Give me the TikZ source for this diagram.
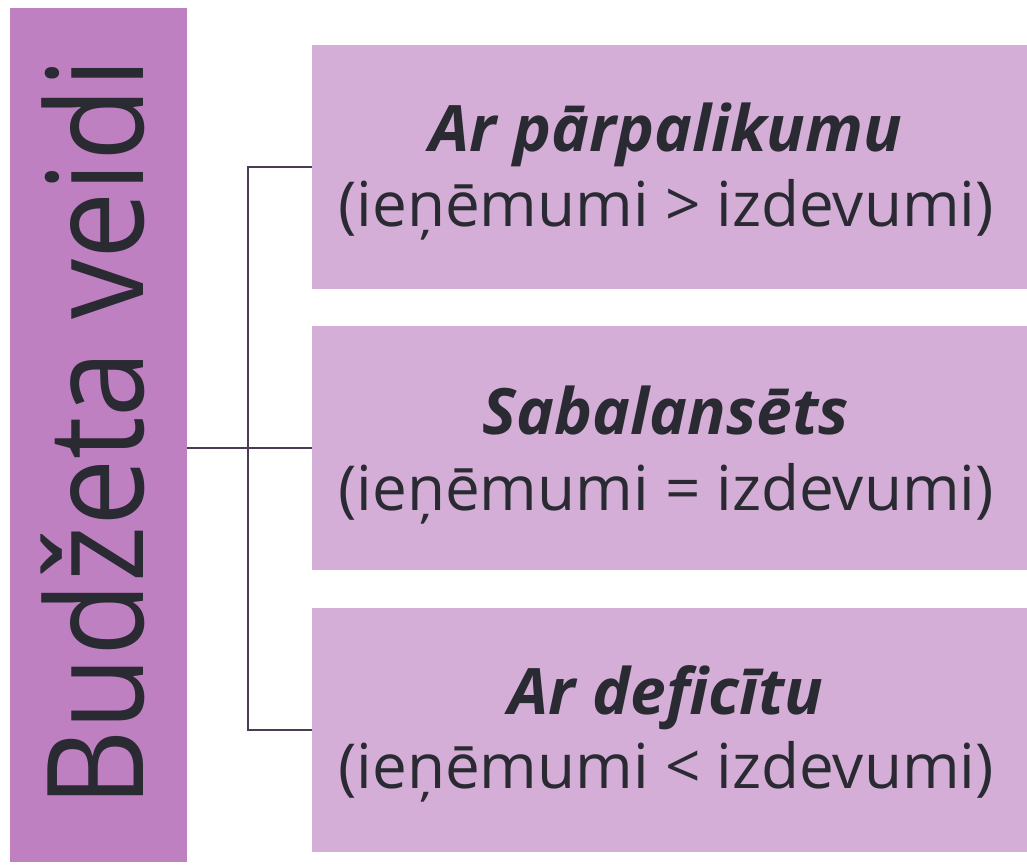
\documentclass[tikz,border=0pt]{standalone}
\usepackage{fontspec}
\setmainfont{Open Sans}
\definecolor{barcol}{HTML}{BF80C2}
\definecolor{boxcol}{HTML}{D4AED7}
\definecolor{linecol}{HTML}{4B3B55}
\definecolor{txtcol}{HTML}{2A2A33}
\tikzset{
  sidebar/.style={fill=barcol, draw=none, inner sep=0pt},
  typebox/.style={fill=boxcol, draw=none, inner sep=0pt, minimum width=715pt, minimum height=244pt},
  boxtitle/.style={anchor=base, inner sep=0pt, text=txtcol, font=\fontsize{64}{70}\selectfont\bfseries\itshape},
  boxsub/.style={anchor=base, inner sep=0pt, text=txtcol, font=\fontsize{62}{70}\selectfont},
  conn/.style={draw=linecol, line width=2.8pt}
}
\begin{document}
\begin{tikzpicture}[x=1pt,y=-1pt]
\useasboundingbox (0,0) rectangle (1027,866);
\fill[white] (0,0) rectangle (1027,866);
\node[sidebar, minimum width=177pt, minimum height=854pt] (bar) at (98.5,435) {};
\node[rotate=90, anchor=base west, inner sep=0pt, text=txtcol, font=\fontsize{134}{140}\selectfont] (title) at (143,808) {\scalebox{0.895}[1]{Budžeta veidi}};
\node[typebox] (box1) at (669.5,167) {};
\node[typebox] (box2) at (669.5,448) {};
\node[typebox] (box3) at (669.5,730) {};
\node[boxtitle] (t1) at (666,152) {Ar pārpalikumu};
\node[boxsub] (s1) at (666,227) {(ieņēmumi > izdevumi)};
\node[boxtitle] (t2) at (666,434) {Sabalansēts};
\node[boxsub] (s2) at (666,510) {(ieņēmumi = izdevumi)};
\node[boxtitle] (t3) at (666,714) {Ar deficītu};
\node[boxsub] (s3) at (666,788) {(ieņēmumi < izdevumi)};
\coordinate (jx) at (248,448);
\draw[conn] (bar.east |- box2.west) -- (box2.west);
\draw[conn] (box1.west) -| (jx) |- (box3.west);
\end{tikzpicture}
\end{document}
